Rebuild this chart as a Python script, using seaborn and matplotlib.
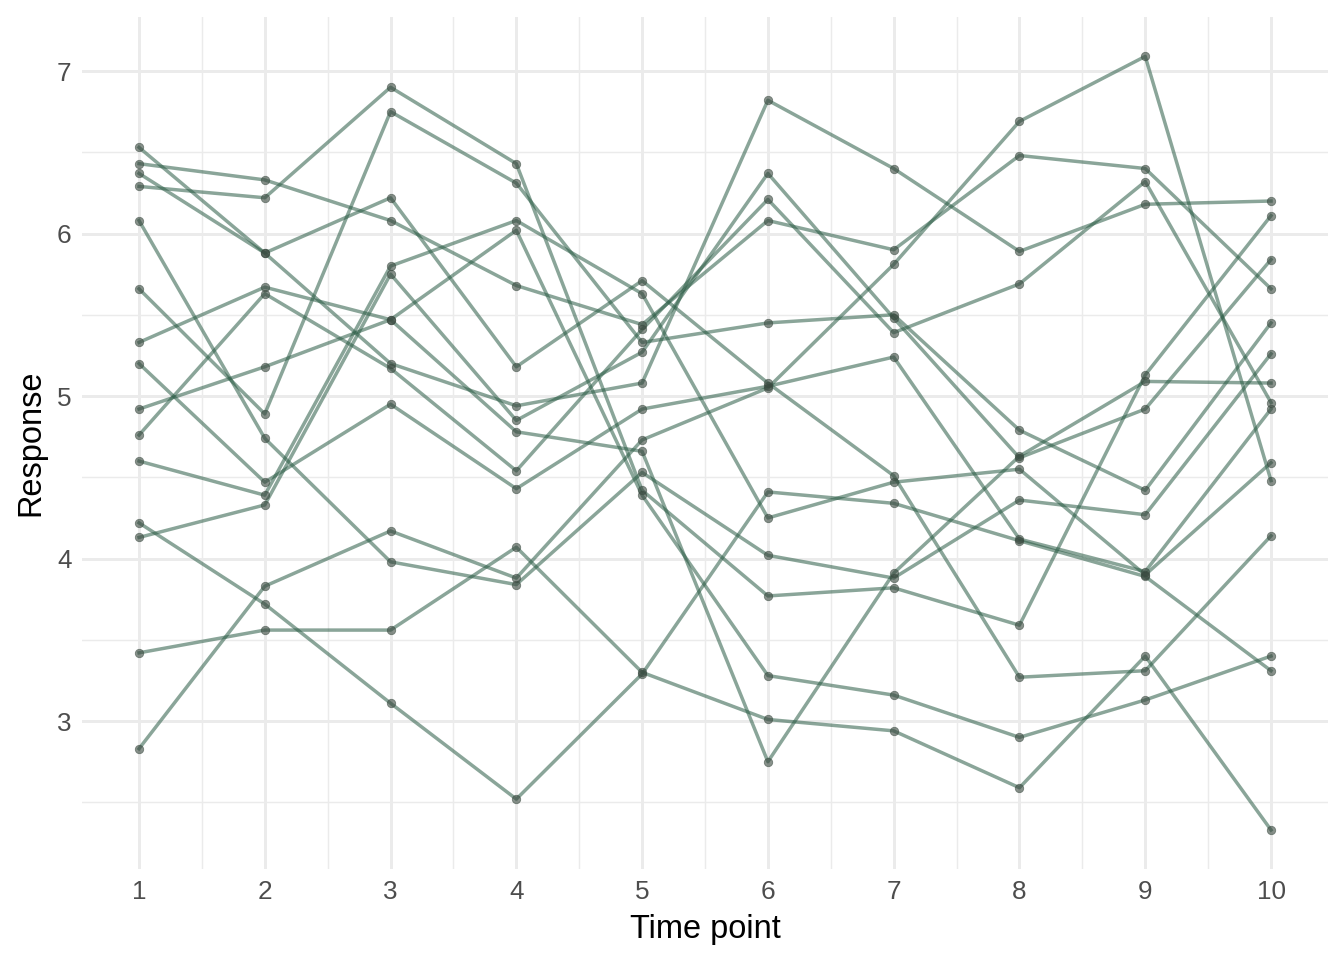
import numpy as np
import pandas as pd
import seaborn as sns
import matplotlib.pyplot as plt
from matplotlib.ticker import MultipleLocator

# time points and one response list per subject
time_points = [1, 2, 3, 4, 5, 6, 7, 8, 9, 10]

s01 = [6.53, 5.88, 6.22, 5.18, 5.71, 5.08, 4.51, 3.27, 3.31, 4.14]
s02 = [6.43, 6.33, 6.08, 5.68, 5.44, 6.08, 5.90, 6.48, 6.40, 5.66]
s03 = [6.37, 5.88, 5.20, 4.94, 5.08, 6.82, 6.40, 5.89, 6.18, 6.20]
s04 = [6.29, 6.22, 6.90, 6.43, 4.42, 3.77, 3.82, 3.59, 5.13, 6.11]
s05 = [6.08, 4.74, 3.98, 3.84, 4.53, 4.02, 3.88, 4.36, 4.27, 5.26]
s06 = [5.66, 4.89, 6.75, 6.31, 5.33, 5.45, 5.50, 4.79, 4.42, 5.45]
s07 = [5.33, 5.67, 5.47, 6.02, 4.39, 3.28, 3.16, 2.90, 3.13, 3.40]
s08 = [5.20, 4.47, 4.95, 4.43, 4.92, 5.06, 5.24, 4.12, 3.92, 4.92]
s09 = [4.92, 5.18, 5.47, 4.78, 4.66, 2.75, 3.91, 4.63, 5.09, 5.08]
s10 = [4.76, 5.63, 5.17, 4.54, 5.41, 6.21, 5.39, 5.69, 6.32, 4.96]
s11 = [4.60, 4.39, 5.80, 6.08, 5.63, 4.25, 4.47, 4.55, 3.90, 4.59]
s12 = [4.22, 3.72, 3.11, 2.52, 3.29, 4.41, 4.34, 4.11, 3.89, 3.31]
s13 = [4.13, 4.33, 5.75, 4.85, 5.27, 6.37, 5.48, 4.62, 4.92, 5.84]
s14 = [3.42, 3.56, 3.56, 4.07, 3.30, 3.01, 2.94, 2.59, 3.40, 2.33]
s15 = [2.83, 3.83, 4.17, 3.88, 4.73, 5.05, 5.81, 6.69, 7.09, 4.48]

subjects = [s01, s02, s03, s04, s05, s06, s07, s08, s09, s10,
            s11, s12, s13, s14, s15]

# long table for seaborn
rows = []
for i, vals in enumerate(subjects):
    for t, v in zip(time_points, vals):
        rows.append({"subject": i + 1, "time": t, "response": v})
df = pd.DataFrame(rows)

plt.rcParams["font.family"] = ["Liberation Sans", "DejaVu Sans"]

# =========================
# PLOT
# =========================
fig = plt.figure(figsize=(7, 5), dpi=192)
ax = fig.add_axes([0.0613, 0.0948, 0.9265, 0.8871])

sns.lineplot(
    data=df, x="time", y="response",
    units="subject", estimator=None,
    color="#2A5C45", alpha=0.55, linewidth=1.3,
    ax=ax, legend=False
)

sns.scatterplot(
    data=df, x="time", y="response",
    color="#3A4A40", alpha=0.6, s=10,
    edgecolor="#3A4A40", linewidth=0.3,
    ax=ax, legend=False, zorder=3
)

# ggplot theme_minimal look
ax.set_xlim(0.55, 10.45)
ax.set_ylim(2.09, 7.33)
ax.set_xticks(time_points)
ax.xaxis.set_minor_locator(MultipleLocator(0.5))
ax.yaxis.set_major_locator(MultipleLocator(1))
ax.yaxis.set_minor_locator(MultipleLocator(0.5))
ax.grid(which="major", color="#EBEBEB", linewidth=1.1)
ax.grid(which="minor", color="#EBEBEB", linewidth=0.55)
ax.set_axisbelow(True)
for sp in ax.spines.values():
    sp.set_visible(False)
ax.tick_params(which="both", length=0, labelsize=9.8, labelcolor="#4D4D4D", pad=4)

ax.set_xlabel("Time point", fontsize=12.2, color="black", labelpad=4)
ax.set_ylabel("Response", fontsize=12.2, color="black", labelpad=4)

plt.savefig("out.png", dpi=192)
